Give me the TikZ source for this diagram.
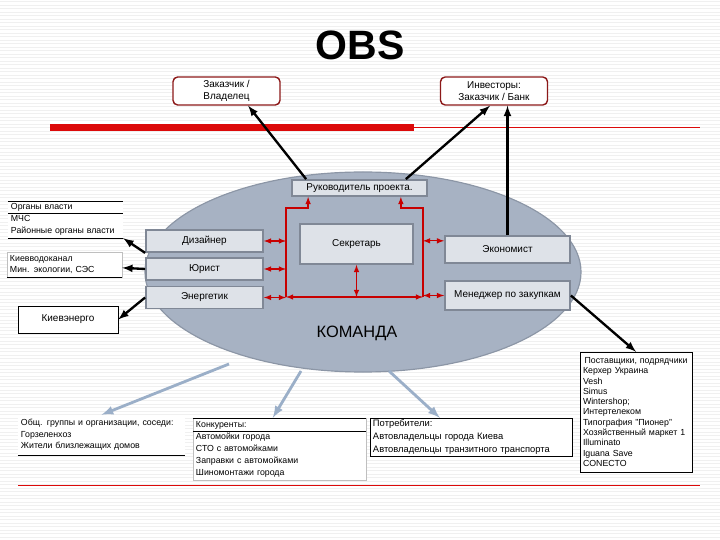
\documentclass[tikz,border=0pt]{standalone}
\usepackage{fontspec}
\setmainfont{Liberation Sans}
\usetikzlibrary{arrows,shapes}
\usetikzlibrary{positioning}
\definecolor{darkred}{rgb}{0.55,0.1,0.1}
\definecolor{teamfill}{RGB}{167,178,195}
\definecolor{teamline}{RGB}{140,150,166}
\definecolor{rolefill}{RGB}{222,226,232}
\definecolor{roleline}{RGB}{128,136,150}
\definecolor{linkred}{RGB}{200,0,0}
\definecolor{barred}{RGB}{220,10,10}
\definecolor{outblue}{RGB}{155,175,200}
\tikzstyle{stripe}=[draw=gray!12,line width=0.8pt]
\tikzstyle{owner}=[draw=darkred,line width=1.2pt,rounded corners=4pt,fill=white,
                minimum width=3.21cm,minimum height=0.84cm,inner sep=1pt,align=center,
                font=\fontsize{8.5}{10}\selectfont]
\tikzstyle{role}=[draw=roleline,line width=1.5pt,fill=rolefill,inner sep=1pt,
                font=\fontsize{8.5}{10}\selectfont]
\tikzstyle{ext}=[fill=white,inner xsep=0.09cm,inner ysep=0pt,align=left,
                font=\fontsize{7.5}{10.2}\selectfont]
\tikzstyle{link}=[draw=linkred,line width=1.1pt,>=latex]
\tikzstyle{tie}=[every edge/.style={draw,line width=2pt,->,>=latex}]
\tikzstyle{spread}=[every edge/.style={draw=outblue,line width=2.4pt,->,>=latex}]

\begin{document}
\begin{tikzpicture}[x=0.03cm,y=-0.03cm]
\path[use as bounding box] (0,0) rectangle (720,540);
\foreach \y in {1.5,5,...,540} \draw[stripe] (0,\y) -- (720,\y);

\node[font=\fontsize{35}{40}\selectfont\bfseries] (title) at (360,45) {OBS};

\node[owner] (zak) at (226.5,91) {Заказчик /\\Владелец};
\node[owner] (inv) at (494,91) {Инвесторы:\\Заказчик / Банк};
\fill[barred] (50,124) rectangle (414,131);
\draw[barred,line width=0.6pt] (414,127.5) -- (700,127.5);
\draw[barred,line width=0.6pt] (18,485) -- (700,485);

% team
\node[ellipse,draw=teamline,line width=1pt,fill=teamfill,minimum width=13.08cm,
      minimum height=6cm,inner sep=0] (team) at (363,272) {};
\node[role,minimum width=4.05cm,minimum height=0.48cm] (ruk) at (359.5,188) {Руководитель проекта.};
\node[role,minimum width=3.51cm,minimum height=0.66cm] (diz) at (204.5,241) {Дизайнер};
\node[role,minimum width=3.51cm,minimum height=0.66cm] (yur) at (204.5,269) {Юрист};
\node[role,minimum width=3.51cm,minimum height=0.66cm] (ener) at (204.5,297.5) {Энергетик};
\node[role,minimum width=3.39cm,minimum height=1.2cm] (sec) at (356.5,244) {Секретарь};
\node[role,minimum width=3.75cm,minimum height=0.81cm] (eko) at (507.5,249.5) {Экономист};
\node[role,minimum width=3.75cm,minimum height=0.87cm] (men) at (507.5,295.5) {Менеджер по закупкам};
\node[font=\fontsize{14}{16}\selectfont] (cmd) at (357,333) {КОМАНДА};

\coordinate (lt) at (286,208);
\coordinate (lb) at (286,297);
\coordinate (rt) at (423,208);
\coordinate (rb) at (423,297);
\coordinate (ekoin) at ([yshift=0.26cm]eko.west);

\draw[link,->] (lb) -- (lt) -| ([xshift=0.51cm]ruk.south west);
\draw[link,->] (rb) -- (rt) -| ([xshift=-0.81cm]ruk.south east);
\draw[link,<->] (diz.east) -- (diz.east -| lt);
\draw[link,<->] (yur.east) -- (yur.east -| lt);
\draw[link,<->] (ener.east) -- (ener.east -| lt);
\draw[link,<->] (lb) -- (rb);
\draw[link,<->] (sec.south) -- (sec.south |- lb);
\draw[link,<->] (ekoin -| rt) -- (ekoin);
\draw[link,<->] (men.west -| rb) -- (men.west);

% outside
\node[ext,text width=3.27cm,minimum height=1.11cm] (org) at (65.5,219.5)
{Органы власти\\МЧС\\Районные органы власти};
\draw (org.north west) -- (org.north east);
\draw ([yshift=-0.36cm]org.north west) -- ([yshift=-0.36cm]org.north east);
\draw (org.south west) -- (org.south east);

\node[ext,draw=gray!50,text width=3.27cm,minimum height=0.75cm,
      font=\fontsize{7.5}{9.35}\selectfont] (vod) at (64.5,264.5)
{Киевводоканал\\Мин. экологии, СЭС};
\draw (vod.south west) -- (vod.south east);

\node[ext,draw,align=center,minimum width=3cm,minimum height=0.81cm,
      font=\fontsize{8.5}{10}\selectfont] (kenergo) at (68,319.5) {Киевэнерго};

\node[ext,text width=4.83cm,minimum height=1.2cm,font=\fontsize{7.5}{9.8}\selectfont] (obsh) at (101.5,435)
{Общ. группы и организации, соседи:\\Горзеленхоз\\Жители близлежащих домов};
\draw (obsh.south west) -- (obsh.south east);

\node[ext,draw=gray!50,text width=5.01cm,minimum height=1.86cm] (konk) at (279.5,449)
{Конкуренты:\\Автомойки города\\СТО с автомойками\\Заправки с автомойками\\Шиномонтажи города};
\draw (konk.north west) -- (konk.north east);
\draw ([yshift=-0.39cm]konk.north west) -- ([yshift=-0.39cm]konk.north east);

\node[ext,draw,text width=5.88cm,minimum height=1.14cm,font=\fontsize{8}{11.2}\selectfont] (potr) at (471,437)
{Потребители:\\Автовладельцы города Киева\\Автовладельцы транзитного транспорта};

\node[ext,draw,text width=3.18cm,minimum height=3.6cm,
      font=\fontsize{7.5}{8.76}\selectfont] (post) at (636,412)
{\hfill Поставщики, подрядчики\hfill\null\\Керхер Украина\\Vesh\\Simus\\Wintershop;\\Интертелеком\\
Типография "Пионер"\\Хозяйственный маркет 1\\Illuminato\\Iguana Save\\CONECTO};

% arrows
\coordinate (s1) at (229,364);
\coordinate (s2) at (301,371);
\coordinate (s3) at (389,371);

\path[tie]
([xshift=0.45cm]ruk.north west) edge ([xshift=0.65cm]zak.south)
([xshift=-0.66cm]ruk.north east) edge ([xshift=-0.12cm]inv.south)
(eko.north) edge (eko.north |- inv.south)
(diz.south west) edge (org.south east)
(yur.west) edge ([yshift=-0.1cm]vod.east)
(ener.west) edge (kenergo.east)
(men.east) edge (post.north)
;
\path[spread]
(s1) edge (obsh.north)
(s2) edge ([xshift=-0.2cm]konk.north)
(s3) edge ([xshift=2.1cm]potr.north west)
;
\end{tikzpicture}
\end{document}
